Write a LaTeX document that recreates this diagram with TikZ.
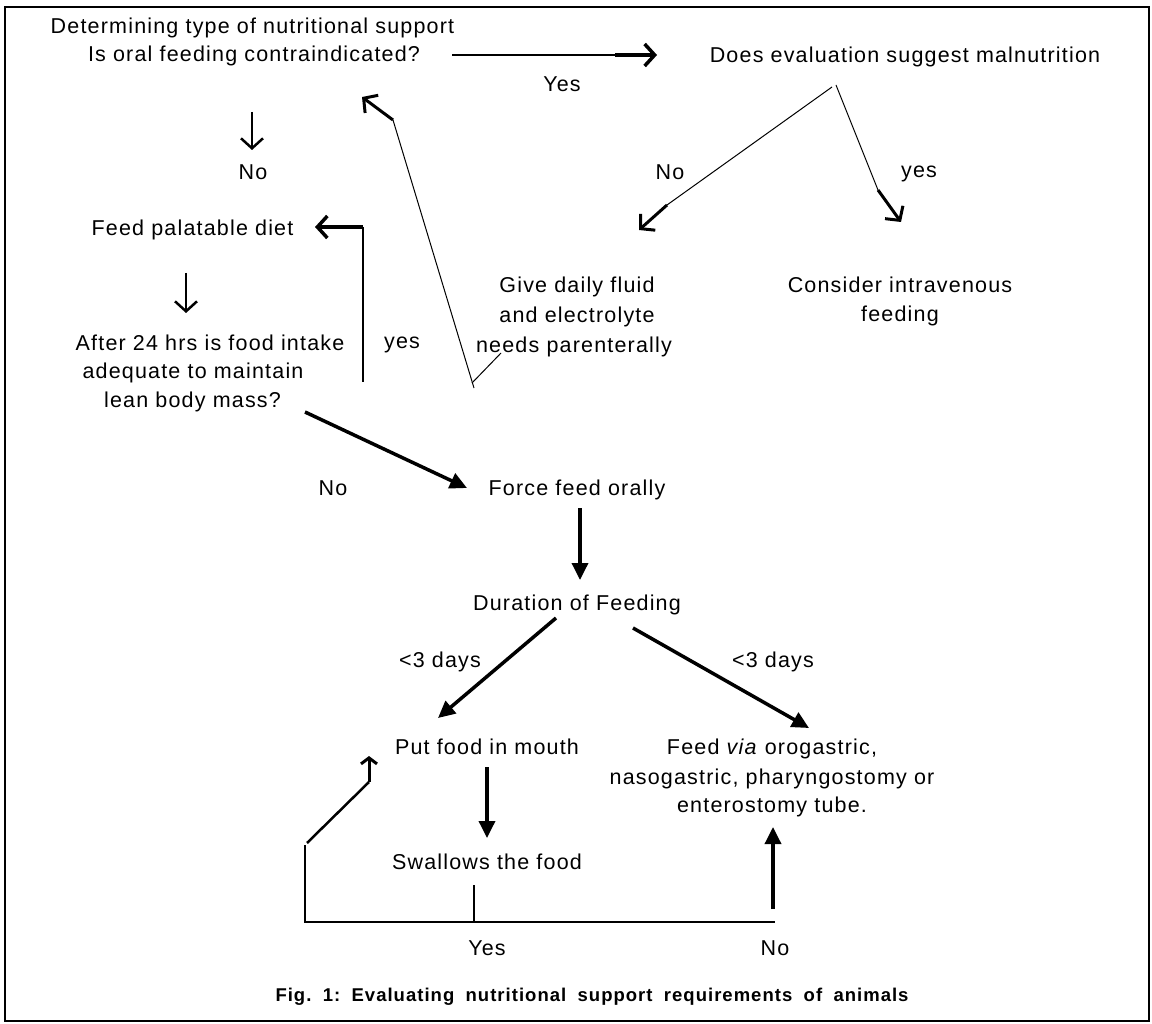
\documentclass[tikz,border=0pt]{standalone}
\usepackage{fontspec}
\setmainfont{Liberation Sans}[LetterSpace=5.5]
\usetikzlibrary{arrows.meta}
\begin{document}
\frenchspacing
\begin{tikzpicture}[x=1pt,y=-1pt,
  txt/.style={font=\fontsize{21.5}{29}\selectfont, inner sep=0pt, anchor=base},
  captxt/.style={font=\bfseries\fontsize{18.5}{22}\selectfont, inner sep=0pt, anchor=base},
  thinln/.style={line width=1pt},
  loopln/.style={line width=1.3pt},
  chev/.style={line width=3pt, -{Straight Barb[length=10pt,width=22pt]}},
  smallchev/.style={line width=3pt, -{Straight Barb[length=6pt,width=16pt]}},
  tri/.style={line width=3.5pt, -{Triangle[length=17pt,width=16pt]}}]
\useasboundingbox (0,0) rectangle (1152,1024);
\draw[line width=1.2pt] (5,7) rectangle (1149,1021);

% texts
\node[txt] (q1a) at (252.5,34) {Determining type of nutritional support};
\node[txt] (q1b) at (254,62) {Is oral feeding contraindicated?};
\node[txt] (q2) at (905,63) {Does evaluation suggest malnutrition};
\node[txt] (yes1) at (562,92) {Yes};
\node[txt] (no1) at (253,180) {No};
\node[txt] (no2) at (670,180) {No};
\node[txt] (yes2) at (919,178) {yes};
\node[txt] (feed) at (192.5,236) {Feed palatable diet};
\node[txt] (a1) at (210,351) {After 24 hrs is food intake};
\node[txt] (a2) at (193,379) {adequate to maintain};
\node[txt] (a3) at (192.5,408) {lean body mass?};
\node[txt] (yes3) at (402,349) {yes};
\node[txt] (g1) at (577,293) {Give daily fluid};
\node[txt] (g2) at (577,323) {and electrolyte};
\node[txt] (g3) at (574,353) {needs parenterally};
\node[txt] (c1) at (900,293) {Consider intravenous};
\node[txt] (c2) at (900,322) {feeding};
\node[txt] (no3) at (333,495) {No};
\node[txt] (force) at (577,495) {Force feed orally};
\node[txt] (dur) at (577,610) {Duration of Feeding};
\node[txt] (d1) at (440,667) {<3 days};
\node[txt] (d2) at (773,667) {<3 days};
\node[txt] (put) at (487,754) {Put food in mouth};
\node[txt] (v1) at (772,754) {Feed \textit{via} orogastric,};
\node[txt] (v2) at (772,784) {nasogastric, pharyngostomy or};
\node[txt] (v3) at (772,812) {enterostomy tube.};
\node[txt] (sw) at (487,869) {Swallows the food};
\node[txt] (yes4) at (487,955) {Yes};
\node[txt] (no4) at (775,955) {No};
\node[captxt] (cap) at (592,1001) {\makebox[633pt][s]{Fig. 1: Evaluating nutritional support requirements of animals}};

% connector points
\coordinate (t0) at (452,55);
\coordinate (t1) at (615,55);
\coordinate (t2) at (657,55);
\coordinate (dn1s) at (252,112);
\coordinate (dn1e) at (252,150);
\coordinate (nwBot) at (474,388);
\coordinate (nwMid) at (393,120);
\coordinate (nwTip) at (362,97);
\coordinate (tickA) at (472,383);
\coordinate (tickB) at (501,353);
\coordinate (lfBot) at (363,382);
\coordinate (lfCorner) at (363,227);
\coordinate (lfTip) at (315,227);
\coordinate (dn2s) at (186,273);
\coordinate (dn2e) at (186,313);
\coordinate (apL) at (832,87);
\coordinate (apLm) at (667,205);
\coordinate (apLt) at (639,230);
\coordinate (apR) at (836,85);
\coordinate (apRm) at (878,190);
\coordinate (apRt) at (901,222);
\coordinate (ffS) at (305,412);
\coordinate (ffE) at (467,488);
\coordinate (fdS) at (580,508);
\coordinate (fdE) at (580,580);
\coordinate (dlS) at (556,618);
\coordinate (dlE) at (438,718);
\coordinate (drS) at (633,628);
\coordinate (drE) at (809,728);
\coordinate (psS) at (487,767);
\coordinate (psE) at (487,838);
\coordinate (lpTick) at (474,885);
\coordinate (lpTickB) at (474,922);
\coordinate (lpA) at (305,845);
\coordinate (lpB) at (305,922);
\coordinate (lpC) at (775,922);
\coordinate (lpD) at (307,843);
\coordinate (lpE) at (369,782);
\coordinate (lpF) at (369,756);
\coordinate (upS) at (773,909);
\coordinate (upE) at (773,827);

% connectors
\draw[line width=2pt] (t0) -- (t1);
\draw[chev, line width=3.5pt] (t1) -- (t2);
\draw[chev, line width=2.5pt] (dn1s) -- (dn1e);
\draw[thinln] (nwBot) -- (nwMid);
\draw[chev] (nwMid) -- (nwTip);
\draw[thinln] (tickA) -- (tickB);
\draw[line width=1.2pt] (lfBot) -- (lfCorner);
\draw[chev, line width=3.5pt] (lfCorner) -- (lfTip);
\draw[chev, line width=2.5pt] (dn2s) -- (dn2e);
\draw[thinln] (apL) -- (apLm);
\draw[chev] (apLm) -- (apLt);
\draw[thinln] (apR) -- (apRm);
\draw[chev] (apRm) -- (apRt);
\draw[tri] (ffS) -- (ffE);
\draw[tri] (fdS) -- (fdE);
\draw[tri] (dlS) -- (dlE);
\draw[tri] (drS) -- (drE);
\draw[tri] (psS) -- (psE);
\draw[loopln] (lpTick) -- (lpTickB);
\draw[loopln] (lpA) -- (lpB) -- (lpC);
\draw[line width=2.5pt] (lpD) -- (lpE);
\draw[smallchev] (lpE) -- (lpF);
\draw[tri] (upS) -- (upE);
\end{tikzpicture}
\end{document}
